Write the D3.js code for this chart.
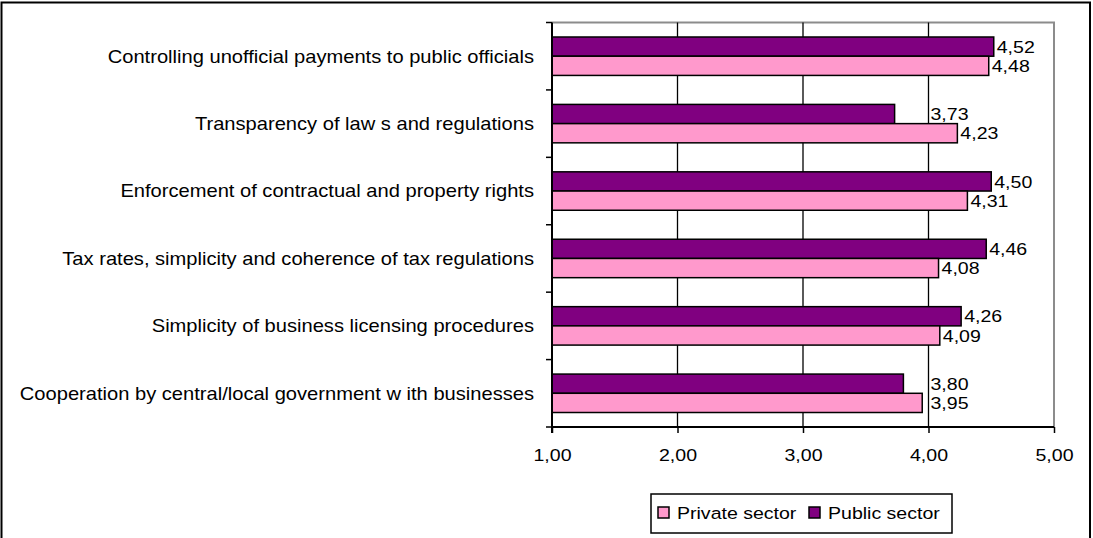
<!DOCTYPE html>
<html>
<head>
<meta charset="utf-8">
<script src="https://cdn.jsdelivr.net/npm/d3@7"></script>
<style>
  html, body { margin: 0; padding: 0; background: #fff; }
  svg { display: block; }
  text { font-family: "Liberation Sans", Arial, sans-serif; fill: #000; }
</style>
</head>
<body>
<svg id="chart" width="1093" height="538"></svg>
<script>
// Business environment ratings by sector
const categories = [
  "Controlling unofficial payments to public officials",
  "Transparency of law s and regulations",
  "Enforcement of contractual and property rights",
  "Tax rates, simplicity and coherence of tax regulations",
  "Simplicity of business licensing procedures",
  "Cooperation by central/local government w ith businesses"
];
const privateSector = [4.48, 4.23, 4.31, 4.08, 4.09, 3.95];
const publicSector  = [4.52, 3.73, 4.50, 4.46, 4.26, 3.80];
const seriesNames = ["Private sector", "Public sector"];
const xTicks = [1, 2, 3, 4, 5];

const colors = { "Private sector": "#FF99CC", "Public sector": "#800080" };
const FONT = 17;       // numbers and legend, px
const CAT_FONT = 17.5; // category labels, px
const SX = 1.15;       // horizontal text stretch

const svg = d3.select("#chart");
const plot = { left: 552, right: 1054, top: 22.5, bottom: 427 };

const fmt = v => d3.format(".2f")(v).replace(".", ",");

// outer frame
svg.append("rect")
  .attr("x", 1.5).attr("y", 2.5)
  .attr("width", 1088.5).attr("height", 600)
  .attr("fill", "#fff").attr("stroke", "#000").attr("stroke-width", 2);

const x = d3.scaleLinear().domain([1, 5]).range([plot.left, plot.right]);
const y = d3.scaleBand().domain(categories)
  .range([plot.top, plot.bottom])
  .paddingInner(0.43).paddingOuter(0.215);
// within each category: public bar on top, private bar below
const inner = d3.scaleBand().domain(["Public sector", "Private sector"])
  .range([0, y.bandwidth()]);

// plot area border (top & right)
svg.append("path")
  .attr("d", `M${plot.left},${plot.top}H${plot.right}V${plot.bottom}`)
  .attr("fill", "none").attr("stroke", "#8c8c8c").attr("stroke-width", 2);

// vertical gridlines
svg.append("g").selectAll("line")
  .data(xTicks.filter(t => t > 1 && t < 5))
  .join("line")
  .attr("x1", d => x(d)).attr("x2", d => x(d))
  .attr("y1", plot.top).attr("y2", plot.bottom)
  .attr("stroke", "#000").attr("stroke-width", 1.3);

// bars
const rows = categories.map((c, i) => ({
  cat: c,
  vals: [
    { s: "Public sector", v: publicSector[i] },
    { s: "Private sector", v: privateSector[i] }
  ]
}));

const groups = svg.append("g").selectAll("g")
  .data(rows).join("g")
  .attr("transform", d => `translate(0,${y(d.cat)})`);

groups.selectAll("rect")
  .data(d => d.vals).join("rect")
  .attr("x", x(1))
  .attr("y", d => inner(d.s))
  .attr("width", d => x(d.v) - x(1))
  .attr("height", inner.bandwidth())
  .attr("fill", d => colors[d.s])
  .attr("stroke", "#000").attr("stroke-width", 1.5);

// value labels, kept clear of the 4,00 gridline
groups.selectAll("text")
  .data(d => d.vals).join("text")
  .attr("transform", d => {
    const lx = Math.max(x(d.v) + 3, x(4) + 2);
    return `translate(${lx},${inner(d.s) + inner.bandwidth() / 2}) scale(${SX},1)`;
  })
  .attr("dy", "0.36em")
  .style("font-size", FONT + "px")
  .text(d => fmt(d.v));

// y axis
const yAxis = svg.append("g");
yAxis.append("line")
  .attr("x1", plot.left).attr("x2", plot.left)
  .attr("y1", plot.top).attr("y2", plot.bottom + 6)
  .attr("stroke", "#000").attr("stroke-width", 2);
const step = y.step();
yAxis.selectAll("line.tick")
  .data(d3.range(categories.length + 1))
  .join("line").attr("class", "tick")
  .attr("x1", plot.left - 6).attr("x2", plot.left)
  .attr("y1", i => plot.top + i * step).attr("y2", i => plot.top + i * step)
  .attr("stroke", "#000").attr("stroke-width", 1.5);
yAxis.selectAll("text")
  .data(categories).join("text")
  .attr("transform", d => `translate(${plot.left - 18},${y(d) + y.bandwidth() / 2}) scale(${SX},1)`)
  .attr("dy", "0.36em")
  .attr("text-anchor", "end")
  .style("font-size", CAT_FONT + "px")
  .text(d => d);

// x axis
const xAxis = svg.append("g").attr("transform", `translate(0,${plot.bottom})`)
  .call(d3.axisBottom(x).tickValues(xTicks).tickSize(6).tickPadding(0).tickFormat(fmt));
xAxis.select(".domain").attr("stroke", "#000").attr("stroke-width", 2)
  .attr("d", `M${plot.left},0H${plot.right}`);
xAxis.selectAll(".tick line").attr("stroke", "#000").attr("stroke-width", 1.5);
xAxis.selectAll(".tick text")
  .attr("y", null).attr("dy", null)
  .attr("transform", `translate(0,34) scale(${SX},1)`)
  .style("font-size", FONT + "px")
  .style("font-family", '"Liberation Sans", Arial, sans-serif')
  .attr("fill", "#000");

// legend
const legend = svg.append("g");
legend.append("rect")
  .attr("x", 651).attr("y", 494).attr("width", 301).attr("height", 39)
  .attr("fill", "#fff").attr("stroke", "#000").attr("stroke-width", 1.5);
const legendItems = [
  { s: seriesNames[0], sx: 658, tx: 677 },
  { s: seriesNames[1], sx: 809, tx: 828 }
];
const li = legend.selectAll("g.item").data(legendItems).join("g").attr("class", "item");
li.append("rect")
  .attr("x", d => d.sx).attr("y", 507).attr("width", 11).attr("height", 11)
  .attr("fill", d => colors[d.s]).attr("stroke", "#000").attr("stroke-width", 1.5);
li.append("text")
  .attr("transform", d => `translate(${d.tx},513) scale(${SX},1)`)
  .attr("dy", "0.36em")
  .style("font-size", FONT + "px")
  .text(d => d.s);
</script>
</body>
</html>
